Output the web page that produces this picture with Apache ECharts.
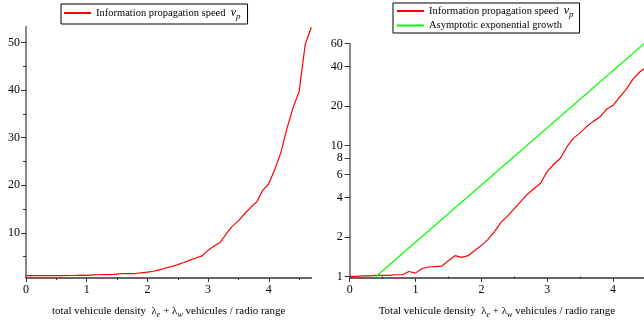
<!DOCTYPE html>
<html>
<head>
<meta charset="utf-8">
<script src="https://cdn.jsdelivr.net/npm/echarts@6/dist/echarts.min.js"></script>
<style>html,body{margin:0;padding:0;background:#fff}#c{width:644px;height:324px}</style>
</head>
<body>
<div id="c"></div>
<script>
// ---- data ----
const density = [0.0,0.1,0.2,0.3,0.4,0.5,0.6,0.7,0.8,0.9,1.0,1.1,1.2,1.3,1.4,1.5,1.6,1.7,1.8,1.9,2.0,2.1,2.2,2.3,2.4,2.5,2.6,2.7,2.8,2.9,3.0,3.1,3.2,3.3,3.4,3.5,3.6,3.7,3.8,3.9,4.0,4.1,4.2,4.3,4.4,4.5,4.6,4.7];
const speed = [1.0,1.0,1.01,1.01,1.02,1.02,1.02,1.03,1.03,1.09,1.06,1.15,1.18,1.19,1.2,1.32,1.44,1.40,1.44,1.58,1.72,1.92,2.2,2.6,2.9,3.3,3.75,4.25,4.7,5.15,6.35,7.2,8.0,9.8,11.4,12.5,14.0,15.3,16.5,18.9,20.3,23.4,26.9,32.0,36.3,39.7,49.6,53.2];
const asymX = [0.4, 4.47];
const asymY = [1.0, 60.0];
const xMajorTicks = [0,1,2,3,4];
const xMinorTicks = [0.5,1.5,2.5,3.5,4.5];
const yLeftLabels = [10,20,30,40,50];
const yLeftMinor = [5,15,25,35,45];
const yRightLabels = [1,2,4,6,8,10,20,40,60];

const FONT = 'Liberation Serif';
const lg = v => Math.log10(v);
const xName = (first) => first + ' vehicule density  {l|λ}{s|e} + {l|λ}{s|w} vehicules / radio range';
const nameRich = {
  l: {fontFamily: FONT, fontSize: 11, color: '#000', lineHeight: 16},
  s: {fontFamily: FONT, fontSize: 8, fontStyle: 'italic', color: '#000', verticalAlign: 'bottom', lineHeight: 9}
};

function xMain(grid, max) {
  return {
    type: 'value', gridIndex: grid, min: 0, max: max, position: 'bottom',
    axisLine: {show: true, onZero: false, lineStyle: {color: '#333', width: 1.5}},
    axisTick: {show: true, customValues: xMajorTicks, length: 4, lineStyle: {color: '#333'}},
    axisLabel: {customValues: xMajorTicks, margin: 6, fontFamily: FONT, fontSize: 12, color: '#000'},
    splitLine: {show: false},
    name: xName(grid === 0 ? 'total' : 'Total'), nameLocation: 'middle', nameGap: 25,
    nameTextStyle: {fontFamily: FONT, fontSize: 11, color: '#000', lineHeight: 16, rich: nameRich}
  };
}
function xMinor(grid, max) {
  return {
    type: 'value', gridIndex: grid, min: 0, max: max, position: 'bottom',
    axisLine: {show: false}, axisLabel: {show: false}, splitLine: {show: false},
    axisTick: {show: true, customValues: xMinorTicks, length: 2, lineStyle: {color: '#333'}}
  };
}

const legendRich = {
  v: {fontFamily: FONT, fontSize: 12, fontStyle: 'italic', color: '#000', lineHeight: 16},
  p: {fontFamily: FONT, fontSize: 9, fontStyle: 'italic', color: '#000', verticalAlign: 'bottom', lineHeight: 9}
};
const legendFmt = n => n === 'Information propagation speed' ? n + '  {v|v}{p|p}' : n;
const legendBase = {
  orient: 'vertical', itemWidth: 27, itemHeight: 12,
  borderColor: '#000', borderWidth: 1, backgroundColor: '#fff',
  formatter: legendFmt,
  itemStyle: {color: 'rgba(0,0,0,0)', borderWidth: 0, opacity: 0},
  textStyle: {fontFamily: FONT, fontSize: 10.5, color: '#000', rich: legendRich}
};

const option = {
  animation: false,
  backgroundColor: '#fff',
  grid: [
    {left: 26, top: 26.7, width: 285.3, height: 260.6},
    {left: 349.7, top: 43.7, width: 294.3, height: 243.6}
  ],
  legend: [
    Object.assign({}, legendBase, {
      data: ['Information propagation speed'], left: 61, top: 4,
      itemGap: 2, padding: [3, 7, 3, 2]
    }),
    Object.assign({}, legendBase, {
      data: ['Information propagation speed', 'Asymptotic exponential growth'], left: 393, top: 3,
      itemGap: 1, padding: [2, 6, 2, 3]
    })
  ],
  xAxis: [xMain(0, 4.7), xMinor(0, 4.7), xMain(1, 4.47), xMinor(1, 4.47)],
  yAxis: [
    {
      type: 'value', gridIndex: 0, min: 0.5, max: 53.3, position: 'left',
      axisLine: {show: true, onZero: false, lineStyle: {color: '#888', width: 2}},
      axisTick: {show: true, customValues: yLeftLabels, length: 5, lineStyle: {color: '#333'}},
      axisLabel: {customValues: yLeftLabels, margin: 6, fontFamily: FONT, fontSize: 12, color: '#000'},
      splitLine: {show: false}
    },
    {
      type: 'value', gridIndex: 0, min: 0.5, max: 53.3, position: 'left',
      axisLine: {show: false}, axisLabel: {show: false}, splitLine: {show: false},
      axisTick: {show: true, customValues: yLeftMinor, length: 3, lineStyle: {color: '#333'}}
    },
    {
      type: 'value', gridIndex: 1, min: -0.012, max: lg(60), position: 'left',
      axisLine: {show: true, onZero: false, lineStyle: {color: '#888', width: 2}},
      axisTick: {show: true, customValues: yRightLabels.map(lg), length: 5, lineStyle: {color: '#333'}},
      axisLabel: {customValues: yRightLabels.map(lg), margin: 7, fontFamily: FONT, fontSize: 12, color: '#000',
        formatter: v => String(Math.round(Math.pow(10, v)))},
      splitLine: {show: false}
    }
  ],
  series: [
    {
      name: 'Information propagation speed', type: 'line', xAxisIndex: 0, yAxisIndex: 0,
      symbol: 'none', lineStyle: {color: '#ff0000', width: 1.2}, itemStyle: {color: '#ff0000'},
      data: density.map((x, i) => [x, speed[i]])
    },
    {
      name: 'Information propagation speed', type: 'line', xAxisIndex: 2, yAxisIndex: 2,
      symbol: 'none', lineStyle: {color: '#ff0000', width: 1.2}, itemStyle: {color: '#ff0000'},
      data: density.map((x, i) => [x, lg(speed[i])])
    },
    {
      name: 'Asymptotic exponential growth', type: 'line', xAxisIndex: 2, yAxisIndex: 2,
      symbol: 'none', lineStyle: {color: '#00ff00', width: 1.2}, itemStyle: {color: '#00ff00'},
      data: asymX.map((x, i) => [x, lg(asymY[i])])
    }
  ]
};
echarts.init(document.getElementById('c')).setOption(option);
</script>
</body>
</html>
